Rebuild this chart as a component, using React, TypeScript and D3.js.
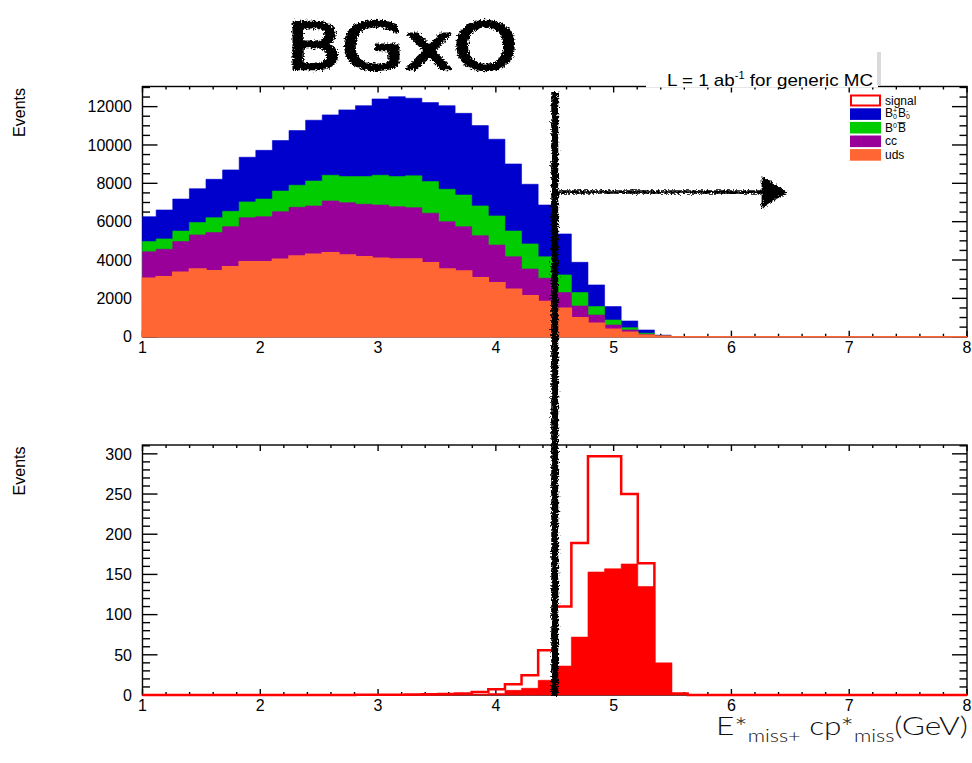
import React from "react";
import * as d3 from "d3";

// histogram binning (50 bins, first edge slightly left of 1)
const binStart = 0.975;
const binWidth = 0.141;
const nBins = 50;

// top: generic MC stack, per bin (bins after the last value are empty)
const udsEvents = [3050, 3130, 3360, 3530, 3440, 3650, 3910, 3910, 4040, 4210, 4300, 4380, 4260, 4170, 4090, 4050, 4050, 3860, 3530, 3430, 3080, 2820, 2470, 2140, 1830, 1480, 990, 700, 390, 230, 70, 30];
const ccEvents = [1380, 1430, 1600, 1780, 1990, 2090, 2300, 2350, 2480, 2540, 2520, 2700, 2730, 2740, 2780, 2730, 2680, 2580, 2470, 2310, 2190, 1960, 1700, 1390, 1220, 820, 610, 430, 220, 120, 50, 15];
const b0b0Events = [530, 540, 550, 640, 780, 800, 820, 920, 1080, 1150, 1300, 1340, 1360, 1440, 1550, 1570, 1660, 1650, 1690, 1650, 1550, 1520, 1340, 1310, 1120, 920, 700, 440, 260, 120, 60, 15];
const bpbmEvents = [1300, 1510, 1670, 1770, 2000, 2160, 2330, 2540, 2630, 2850, 3170, 3150, 3480, 3700, 3980, 4170, 4050, 4120, 4360, 4260, 4190, 4000, 3500, 3110, 2700, 2140, 1580, 1130, 700, 350, 170, 20];

// bottom: signal, all events (outline) and after cut (filled)
const signalAll = [0, 0, 0, 0, 0, 0, 0, 0, 0, 0, 0, 0, 0, 0.2, 0.2, 0.3, 0.5, 0.8, 1.2, 2, 3.7, 7, 13.3, 24.5, 55.6, 110, 189, 297, 297, 250, 164, 39, 2];
const signalCut = [0, 0, 0, 0, 0, 0, 0, 0, 0, 0, 0, 0, 0, 0, 0, 0, 0, 0, 0.3, 0.5, 1, 2, 5.8, 8.3, 18.3, 36, 72, 153, 157, 163, 135, 39, 1];

const legendLabels = ["signal", "B+B-", "B0B0bar", "cc", "uds"];
const legendColors = ["#ffffff", "#0000cc", "#00cc00", "#990099", "#ff6633"];

const xMajor = [1, 2, 3, 4, 5, 6, 7, 8];
const topMajor = [0, 2000, 4000, 6000, 8000, 10000, 12000];
const botMajor = [0, 50, 100, 150, 200, 250, 300];

const cutValue = 4.5;
const arrowLevel = 7550;
const arrowEnd = 6.46;

const L = 142.5, R = 967;
const font = "'Liberation Sans', Arial, Helvetica, sans-serif";

const x = d3.scaleLinear().domain([1, 8]).range([L, R]);
const yTop = d3.scaleLinear().domain([0, 13050]).range([336.7, 86.5]);
const yBot = d3.scaleLinear().domain([0, 311]).range([695, 445]);

function steps(vals: number[]): [number, number][] {
  const pts: [number, number][] = [];
  for (let i = 0; i < nBins; i++) {
    const v = vals[i] ?? 0;
    const x0 = Math.max(1, binStart + i * binWidth);
    const x1 = Math.min(8, binStart + (i + 1) * binWidth);
    if (x1 <= x0) continue;
    pts.push([x0, v], [x1, v]);
  }
  return pts;
}

function Frame({ y, major, minor, fmt }: any) {
  const [b, t] = y.range();
  const xMinor = d3.ticks(1, 8, 35);
  return (
    <g stroke="#000" strokeWidth={1.4} fill="none">
      <rect x={L} y={t} width={R - L} height={b - t} />
      {xMinor.map((v: number, i: number) => {
        const len = xMajor.includes(Math.round(v * 10) / 10) ? 6 : 3;
        return (
          <g key={"x" + i}>
            <line x1={x(v)} x2={x(v)} y1={b} y2={b - len} />
            <line x1={x(v)} x2={x(v)} y1={t} y2={t + len} />
          </g>
        );
      })}
      {minor.map((v: number, i: number) => {
        const len = major.includes(v) ? 15 : 7.5;
        return (
          <g key={"y" + i}>
            <line x1={L} x2={L + len} y1={y(v)} y2={y(v)} />
            <line x1={R} x2={R - len} y1={y(v)} y2={y(v)} />
          </g>
        );
      })}
      <g stroke="none" fill="#000" fontFamily={font} fontSize={16}>
        {major.map((v: number) => (
          <text key={v} x={132} y={y(v)} dy="0.36em" textAnchor="end">{fmt(v)}</text>
        ))}
        {xMajor.map((v) => (
          <text key={v} x={x(v)} y={b + 16} textAnchor="middle">{v}</text>
        ))}
        <text transform={`translate(25,${t + 1.5}) rotate(-90)`} textAnchor="end">Events</text>
      </g>
    </g>
  );
}

export default function App() {
  const rows = d3.range(nBins).map((i) => ({
    uds: udsEvents[i] ?? 0,
    cc: ccEvents[i] ?? 0,
    b0: b0b0Events[i] ?? 0,
    bpm: bpbmEvents[i] ?? 0,
  }));
  const keys = ["uds", "cc", "b0", "bpm"];
  const colorOf: any = { uds: "#ff6633", cc: "#990099", b0: "#00cc00", bpm: "#0000cc" };
  const series = d3.stack<any>().keys(keys)(rows);

  const areaTop = d3.area<[number, number]>().x((d) => x(d[0])).y0(yTop(0)).y1((d) => yTop(d[1]));
  const areaBot = d3.area<[number, number]>().x((d) => x(d[0])).y0(yBot(0)).y1((d) => yBot(d[1]));
  const lineBot = d3.line<[number, number]>().x((d) => x(d[0])).y((d) => yBot(d[1]));

  const cx = x(cutValue);
  const ay = yTop(arrowLevel);
  const ax = x(arrowEnd);
  const rowY = (i: number) => 100.5 + i * 13.6;

  return (
    <svg width={972} height={763} style={{ position: "absolute", left: 0, top: 0, background: "#fff" }}>
      <defs>
        <filter id="rough" filterUnits="userSpaceOnUse" x={0} y={0} width={972} height={763}>
          <feTurbulence type="fractalNoise" baseFrequency="0.55" numOctaves={3} seed={4} result="n" />
          <feDisplacementMap in="SourceGraphic" in2="n" scale={6} xChannelSelector="R" yChannelSelector="G" />
        </filter>
      </defs>
      <rect width={972} height={763} fill="#fff" />

      {/* top: stacked generic MC, drawn from the total down to uds */}
      <Frame y={yTop} major={topMajor} minor={d3.ticks(0, 13000, 26)} fmt={(v: number) => String(v)} />
      {[...series].reverse().map((s: any) => (
        <path
          key={s.key}
          d={areaTop(steps(s.map((d: any) => d[1])))!}
          fill={colorOf[s.key]}
          stroke={colorOf[s.key]}
          strokeWidth={s.key === "uds" ? 1.5 : 0.6}
        />
      ))}

      {/* luminosity label */}
      <rect x={646} y={50} width={232} height={37.5} fill="#fff" />
      <rect x={877} y={52} width={4} height={33} fill="#dadada" />
      <text x={667} y={86} fontFamily={font} fontSize={17} textLength={206} lengthAdjust="spacingAndGlyphs">
        L = 1 ab<tspan fontSize={10} dy={-7}>-1</tspan><tspan dy={7}> for generic MC</tspan>
      </text>

      {/* legend */}
      <g fontFamily={font} fontSize={12}>
        {legendLabels.map((lab, i) => (
          <g key={lab}>
            {i === 0 ? (
              <rect x={851} y={rowY(i) - 5} width={29} height={10} fill="#fff" stroke="#ff0000" strokeWidth={2} />
            ) : (
              <rect x={850} y={rowY(i) - 5.8} width={31} height={11.6} fill={legendColors[i]} />
            )}
          </g>
        ))}
        <text x={885} y={rowY(0) + 4}>signal</text>
        <text x={885} y={rowY(1) + 3}>
          B<tspan fontSize={7} dy={-4}>+</tspan><tspan fontSize={7} dx={-4} dy={6}>0</tspan>
          <tspan fontSize={12} dx={1} dy={-2}>B</tspan><tspan fontSize={7} dy={-4}>-</tspan><tspan fontSize={7} dx={-2.5} dy={6}>0</tspan>
        </text>
        <text x={885} y={rowY(2) + 4.5}>
          B<tspan fontSize={7} dy={-4}>0</tspan><tspan fontSize={12} dx={1} dy={4}>B</tspan>
        </text>
        <line x1={897.5} x2={905.5} y1={rowY(2) - 5} y2={rowY(2) - 5} stroke="#000" strokeWidth={0.9} />
        <text x={885} y={rowY(3) + 4}>cc</text>
        <text x={885} y={rowY(4) + 4}>uds</text>
      </g>

      {/* bottom: signal */}
      <Frame y={yBot} major={botMajor} minor={d3.ticks(0, 311, 31)} fmt={(v: number) => String(v)} />
      <path d={areaBot(steps(signalCut))!} fill="#ff0000" stroke="#ff0000" strokeWidth={0.6} />
      <path d={lineBot(steps(signalAll))!} fill="none" stroke="#ff0000" strokeWidth={2.5} />

      {/* axis title */}
      <text x={716} y={735} fontFamily="Lato, 'Open Sans', sans-serif" fontWeight={300} fontSize={25} textLength={252} lengthAdjust="spacingAndGlyphs" fill="#111">
        E<tspan dy={2}>*</tspan><tspan fontSize={17} dy={5}>miss+</tspan><tspan dy={-7}> cp</tspan><tspan dy={2}>*</tspan><tspan fontSize={17} dy={5}>miss</tspan><tspan dy={-7}>(GeV)</tspan>
      </text>

      {/* hand-drawn annotations */}
      <g filter="url(#rough)">
        <text x={286} y={69} fontFamily="'DejaVu Sans', sans-serif" fontSize={64} textLength={232} lengthAdjust="spacingAndGlyphs" fill="#000" stroke="#000" strokeWidth={2.5} strokeLinejoin="round">BGxO</text>
        <line x1={cx} x2={cx} y1={92} y2={696} stroke="#000" strokeWidth={7} />
        <line x1={cx} x2={ax - 18} y1={ay} y2={ay} stroke="#000" strokeWidth={3.5} />
        <path d={`M${ax - 23},${ay - 14} L${ax},${ay} L${ax - 23},${ay + 15} Z`} fill="#000" stroke="#000" strokeWidth={2} />
      </g>
    </svg>
  );
}
